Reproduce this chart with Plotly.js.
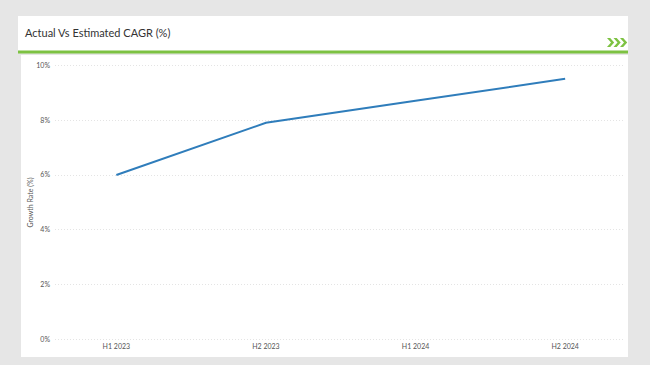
<!DOCTYPE html>
<html>
<head>
<meta charset="utf-8">
<script src="https://cdn.plot.ly/plotly-3.0.1.min.js"></script>
<style>html,body{margin:0;padding:0;background:#e6e6e6;}</style>
</head>
<body>
<div id="chart" style="width:650px;height:365px;"></div>
<script>
const periods = ["H1 2023", "H2 2023", "H1 2024", "H2 2024"];
const growthRate = [6.0, 7.9, 8.7, 9.5];
const yTickVals = [0, 2, 4, 6, 8, 10];
const yTickText = ["0%", "2%", "4%", "6%", "8%", "10%"];

// pixel -> paper helpers (plot area: x 55..625, y 64..341)
const L = 55, R = 25, T = 64, B = 24, W = 650, H = 365;
const pw = W - L - R, ph = H - T - B;
const px = x => (x - L) / pw;
const py = y => (H - B - y) / ph;

function chevron(x0, yc) {
  const h = 4.5, w = 4, t = 3.2;
  const pts = [[x0, yc - h], [x0 + t, yc - h], [x0 + t + w, yc], [x0 + t, yc + h], [x0, yc + h], [x0 + w, yc]];
  return {type: 'path', xref: 'paper', yref: 'paper', layer: 'above',
    path: 'M' + pts.map(p => px(p[0]).toFixed(5) + ',' + py(p[1]).toFixed(5)).join(' L') + ' Z',
    fillcolor: '#7dc242', line: {width: 0}};
}

const shapes = [
  {type: 'rect', xref: 'paper', yref: 'paper', layer: 'below', x0: px(18), x1: px(628), y0: py(16), y1: py(51), fillcolor: '#ffffff', line: {width: 0}},
  {type: 'rect', xref: 'paper', yref: 'paper', layer: 'below', x0: px(21), x1: px(628), y0: py(55), y1: py(357), fillcolor: '#ffffff', line: {width: 0}},
  {type: 'rect', xref: 'paper', yref: 'paper', layer: 'above', x0: px(18), x1: px(628), y0: py(50.5), y1: py(53.5), fillcolor: '#7dc242', line: {width: 0}},
  chevron(607, 42.5), chevron(613.5, 42.5), chevron(620, 42.5)
];

const trace = {
  x: periods, y: growthRate, type: 'scatter', mode: 'lines',
  line: {color: '#2f7dbb', width: 2}, hoverinfo: 'skip'
};

const layout = {
  width: W, height: H,
  margin: {l: L, r: R, t: T, b: B, pad: 0},
  paper_bgcolor: '#e6e6e6', plot_bgcolor: 'rgba(0,0,0,0)',
  showlegend: false,
  font: {family: 'Lato, "Open Sans", sans-serif', color: '#555555', size: 7},
  title: {text: 'Actual Vs Estimated CAGR (%)', xref: 'container', yref: 'container',
    x: 25 / W, xanchor: 'left', y: 1 - 33 / H, yanchor: 'middle',
    font: {family: 'Lato, "Open Sans", sans-serif', size: 11, color: '#333333'}},
  xaxis: {type: 'category', range: [-0.41, 3.4], showgrid: false, zeroline: false, showline: false,
    ticks: '', tickfont: {size: 7, color: '#555555'}, fixedrange: true},
  yaxis: {range: [-0.04, 10.04], tickvals: yTickVals, ticktext: yTickText, showgrid: true,
    gridcolor: '#e4e4e4', griddash: '1px,2px', gridwidth: 1, zeroline: false, showline: false, ticks: '',
    tickfont: {size: 7, color: '#555555'}, ticklabelstandoff: 4,
    title: {text: 'Growth Rate (%)', standoff: 1, font: {size: 7, color: '#555555'}}, fixedrange: true},
  shapes: shapes
};

Plotly.newPlot('chart', [trace], layout, {displayModeBar: false, staticPlot: true});
</script>
</body>
</html>
